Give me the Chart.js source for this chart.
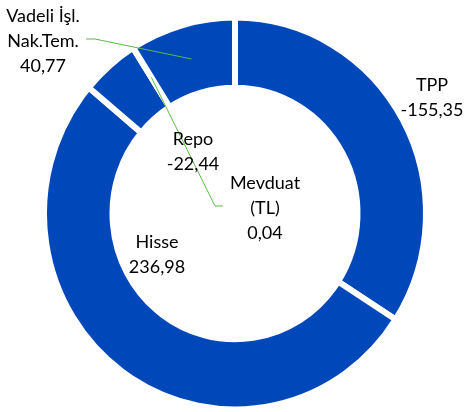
<!DOCTYPE html>
<html>
<head>
<meta charset="utf-8">
<script src="https://cdn.jsdelivr.net/npm/chart.js@4"></script>
<style>
html,body{margin:0;padding:0;background:#fff;}
canvas{display:block;}
</style>
</head>
<body>
<canvas id="c" width="467" height="412"></canvas>
<script>
// ---- data ----
const categories = [['TPP'], ['Hisse'], ['Repo'], ['Mevduat', '(TL)'], ['Vadeli İşl.', 'Nak.Tem.']];
const values = [-155.35, 236.98, -22.44, 0.04, 40.77];

// ---- styling / label layout (not data) ----
const BLUE = '#0047BA';
const LEADER = '#5CB946';
const FONT = '18px Lato, "Noto Sans", sans-serif';
const LINE_H = 25;
const STRETCH_Y = 1.026; // reference ring is slightly taller than wide
// x = centre of text block, y = baseline of first line; leader = attach point & knee offset
const labelLayout = [
  {x: 432, y: 90.5},
  {x: 157, y: 248},
  {x: 193, y: 145},
  {x: 265, y: 188.5, leader: {x: 223, y: 206, knee: -8}},
  {x: 43,  y: 22,   leader: {x: 86,  y: 39,  knee: 9}}
];

function fmt(v) { return v.toFixed(2).replace('.', ','); }

function ringCenter(chart) {
  const a = chart.chartArea;
  return {x: (a.left + a.right) / 2, y: (a.top + a.bottom) / 2};
}

const stretchPlugin = {
  id: 'stretch',
  beforeDatasetsDraw(chart) {
    const c = ringCenter(chart), ctx = chart.ctx;
    ctx.save();
    ctx.translate(c.x, c.y);
    ctx.scale(1, STRETCH_Y);
    ctx.translate(-c.x, -c.y);
  },
  afterDatasetsDraw(chart) { chart.ctx.restore(); }
};

const labelPlugin = {
  id: 'sliceLabels',
  afterDraw(chart) {
    const ctx = chart.ctx;
    const meta = chart.getDatasetMeta(0);
    const c = ringCenter(chart);
    ctx.save();
    ctx.strokeStyle = LEADER;
    ctx.lineWidth = 1;
    labelLayout.forEach((l, i) => {
      if (!l.leader) return;
      const p = meta.data[i].getCenterPoint();
      const py = c.y + (p.y - c.y) * STRETCH_Y;
      ctx.beginPath();
      ctx.moveTo(l.leader.x, l.leader.y);
      ctx.lineTo(l.leader.x + l.leader.knee, l.leader.y);
      ctx.lineTo(p.x, py);
      ctx.stroke();
    });
    ctx.fillStyle = '#000';
    ctx.font = FONT;
    ctx.textAlign = 'center';
    ctx.textBaseline = 'alphabetic';
    labelLayout.forEach((l, i) => {
      const lines = categories[i].concat([fmt(values[i])]);
      lines.forEach((t, k) => ctx.fillText(t, l.x, l.y + k * LINE_H));
    });
    ctx.restore();
  }
};

const OUTER = 191, INNER = 122.5;
new Chart(document.getElementById('c'), {
  type: 'doughnut',
  data: {
    labels: categories.map(c => c.join(' ')),
    datasets: [{
      data: values.map(v => Math.abs(v)),
      backgroundColor: BLUE,
      borderColor: '#ffffff',
      borderWidth: 6,
      hoverOffset: 0
    }]
  },
  options: {
    responsive: false,
    animation: false,
    devicePixelRatio: 1,
    radius: OUTER,
    cutout: (INNER / OUTER * 100) + '%',
    layout: {padding: {left: 3, top: 15, right: 0, bottom: 0}},
    plugins: {legend: {display: false}, tooltip: {enabled: false}}
  },
  plugins: [stretchPlugin, labelPlugin]
});
</script>
</body>
</html>
